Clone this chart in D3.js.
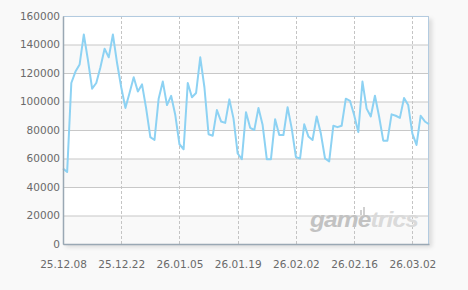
<!DOCTYPE html>
<html>
<head>
<meta charset="utf-8">
<script src="https://cdn.jsdelivr.net/npm/d3@7"></script>
<style>
  body { margin: 0; background: #f9f9f9; }
  svg { display: block; }
  .tick text { font-family: "DejaVu Sans", sans-serif; font-size: 10.5px; fill: #6a6a6a; }
</style>
</head>
<body>
<div id="chart"></div>
<script>
// daily values, 2025-12-08 .. 2026-03-06
var startDate = "2025-12-08";
var values = [
  53000, 50500, 113000, 121000, 126000, 147000, 129000, 109000, 113000, 124000,
  137000, 131000, 147000, 127000, 110000, 95500, 106000, 117000, 107000, 112000,
  95000, 75000, 73000, 102000, 114000, 97500, 104000, 90500, 70000, 66500,
  113000, 103000, 106000, 131000, 110000, 77000, 76000, 94000, 86000, 85000,
  101500, 88000, 63500, 59500, 92500, 81500, 80000, 95500, 83500, 59500,
  59500, 87500, 76500, 76500, 96000, 81000, 61000, 60000, 84000, 75500,
  73000, 89500, 77500, 60000, 58000, 83000, 82000, 83000, 102000, 100500,
  90500, 78500, 114000, 95000, 89500, 104000, 89500, 72500, 72500, 91000,
  90000, 88500, 102500, 97500, 77500, 69500, 90000, 86000, 84000
];
var xTicks = ["25.12.08", "25.12.22", "26.01.05", "26.01.19", "26.02.02", "26.02.16", "26.03.02"];
var yTicks = [0, 20000, 40000, 60000, 80000, 100000, 120000, 140000, 160000];

var parse = d3.timeParse("%Y-%m-%d");
var tickParse = d3.timeParse("%y.%m.%d");
var t0 = parse(startDate);
var data = values.map(function(v, i) { return { date: d3.timeDay.offset(t0, i), value: v }; });

var W = 468, H = 290;
var margin = { top: 16, right: 39, bottom: 46, left: 63 },
    width = W - margin.left - margin.right,
    height = H - margin.top - margin.bottom;

var x = d3.scaleTime().domain(d3.extent(data, function(d) { return d.date; })).range([0, width]);
var y = d3.scaleLinear().domain([0, 160000]).range([height, 0]);

var svg = d3.select("#chart").append("svg").attr("width", W).attr("height", H);

var defs = svg.append("defs");
var f = defs.append("filter").attr("id", "shadow").attr("x", "-5%").attr("y", "-5%").attr("width", "115%").attr("height", "115%");
f.append("feDropShadow").attr("dx", 3).attr("dy", 3).attr("stdDeviation", 2)
  .attr("flood-color", "#000").attr("flood-opacity", 0.12);

var g = svg.append("g").attr("transform", "translate(" + margin.left + "," + margin.top + ")");

// plot background with shadow
g.append("rect").attr("width", width).attr("height", height)
  .attr("fill", "#fff").attr("filter", "url(#shadow)");

// alternating bands
g.selectAll(".band")
  .data(yTicks.slice(0, -1))
  .enter().append("rect")
  .attr("x", 0).attr("width", width)
  .attr("y", function(d) { return y(d + 20000); })
  .attr("height", function(d) { return y(d) - y(d + 20000); })
  .attr("fill", function(d, i) { return i % 2 == 0 ? "#f9f9f9" : "#ffffff"; });

// horizontal grid
g.append("g")
  .call(d3.axisLeft(y).tickValues(yTicks).tickSize(-width).tickFormat(""))
  .call(function(s) { s.select(".domain").remove(); })
  .selectAll(".tick line").attr("stroke", "#c8c8c8");

// vertical dashed grid
g.selectAll(".vgrid")
  .data(xTicks.slice(1))
  .enter().append("line")
  .attr("x1", function(d) { return Math.round(x(tickParse(d))) + 0.5; })
  .attr("x2", function(d) { return Math.round(x(tickParse(d))) + 0.5; })
  .attr("y1", 0).attr("y2", height)
  .attr("stroke", "#c4c4c4")
  .attr("stroke-dasharray", "3,2");

// watermark
var wm = g.append("text")
  .attr("x", 247).attr("y", 211)
  .attr("font-family", "'Liberation Sans', Arial, sans-serif")
  .attr("font-size", "22px").attr("font-weight", "bold").attr("font-style", "italic")
  .attr("letter-spacing", "-0.8")
  .attr("textLength", 108).attr("lengthAdjust", "spacingAndGlyphs");
wm.append("tspan").attr("fill", "#c2c2c2").text("game");
wm.append("tspan").attr("fill", "#dadada").text("trics");
g.append("rect").attr("x", 297).attr("y", 194).attr("width", 2).attr("height", 5).attr("fill", "#d0d0d0");
g.append("rect").attr("x", 300).attr("y", 191).attr("width", 2).attr("height", 8).attr("fill", "#d0d0d0");

// top and right border
g.append("path")
  .attr("d", "M0.5,0.5H" + (width - 0.5) + "V" + height)
  .attr("fill", "none").attr("stroke", "#b3cbe0");

// line
var line = d3.line()
  .x(function(d) { return x(d.date); })
  .y(function(d) { return y(d.value); });

g.append("path")
  .datum(data)
  .attr("d", line)
  .attr("fill", "none")
  .attr("stroke", "#8dd2f3")
  .attr("stroke-width", 2)
  .attr("stroke-linejoin", "round");

// y axis
var yAxis = g.append("g")
  .call(d3.axisLeft(y).tickValues(yTicks).tickSize(0).tickPadding(3).tickFormat(d3.format("d")));
yAxis.select(".domain").attr("stroke", "#9aa8b4").attr("stroke-width", 1.5);

// x axis
var xAxis = g.append("g")
  .attr("transform", "translate(0," + height + ")")
  .call(d3.axisBottom(x).tickValues(xTicks.map(tickParse)).tickSize(0).tickPadding(17)
    .tickFormat(d3.timeFormat("%y.%m.%d")));
xAxis.select(".domain").attr("stroke", "#9aa8b4").attr("stroke-width", 1.5);
</script>
</body>
</html>
